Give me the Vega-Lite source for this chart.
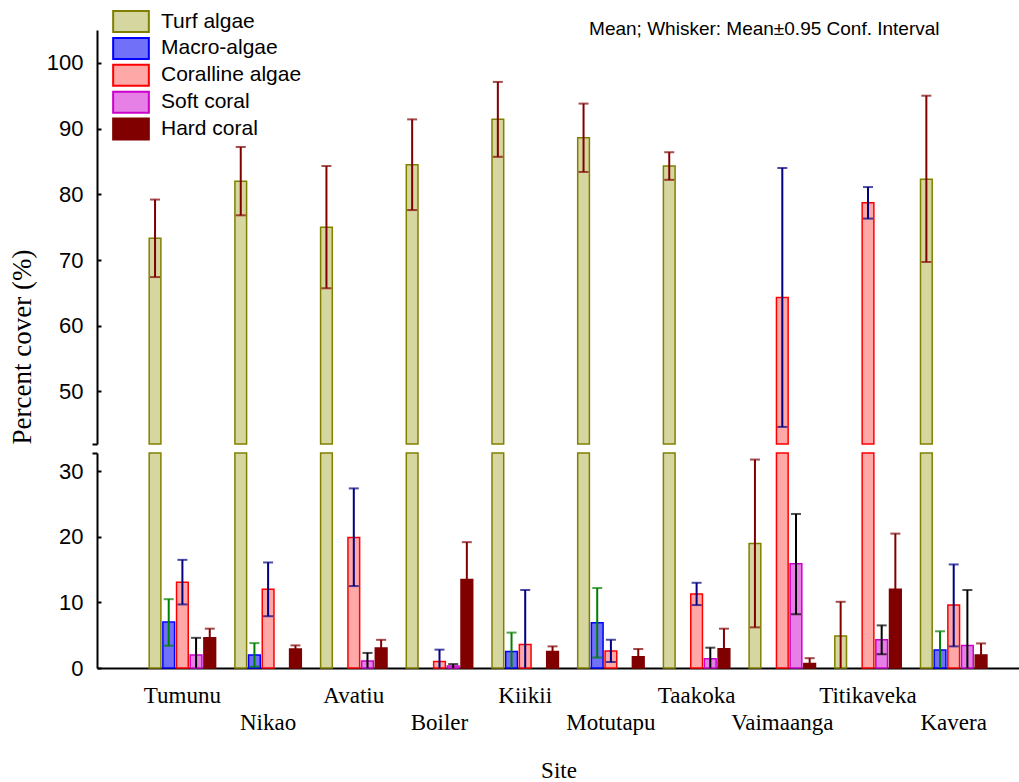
{
  "$schema": "https://vega.github.io/schema/vega-lite/v6.json",
  "background": "white",
  "padding": {"left": 8, "top": 10, "right": 0, "bottom": 0},
  "spacing": 7,
  "datasets": {
    "d": [
      {"site": "Tumunu", "cat": "Turf algae", "mean": 73.3, "lo": 67.4, "hi": 79.2},
      {"site": "Tumunu", "cat": "Macro-algae", "mean": 7.0, "lo": 3.4, "hi": 10.5},
      {"site": "Tumunu", "cat": "Coralline algae", "mean": 13.1, "lo": 9.7, "hi": 16.5},
      {"site": "Tumunu", "cat": "Soft coral", "mean": 2.0, "lo": -0.6, "hi": 4.6},
      {"site": "Tumunu", "cat": "Hard coral", "mean": 4.6, "lo": 3.2, "hi": 6.0},
      {"site": "Nikao", "cat": "Turf algae", "mean": 82.0, "lo": 76.8, "hi": 87.2},
      {"site": "Nikao", "cat": "Macro-algae", "mean": 2.0, "lo": 0.2, "hi": 3.8},
      {"site": "Nikao", "cat": "Coralline algae", "mean": 12.0, "lo": 7.9, "hi": 16.1},
      {"site": "Nikao", "cat": "Hard coral", "mean": 2.9, "lo": 2.35, "hi": 3.45},
      {"site": "Avatiu", "cat": "Turf algae", "mean": 75.0, "lo": 65.7, "hi": 84.3},
      {"site": "Avatiu", "cat": "Coralline algae", "mean": 19.9, "lo": 12.5, "hi": 27.4},
      {"site": "Avatiu", "cat": "Soft coral", "mean": 1.07, "lo": -0.2, "hi": 2.3},
      {"site": "Avatiu", "cat": "Hard coral", "mean": 3.05, "lo": 1.8, "hi": 4.3},
      {"site": "Boiler", "cat": "Turf algae", "mean": 84.5, "lo": 77.6, "hi": 91.4},
      {"site": "Boiler", "cat": "Coralline algae", "mean": 1.0, "lo": -0.8, "hi": 2.8},
      {"site": "Boiler", "cat": "Soft coral", "mean": 0.3, "lo": 0.0, "hi": 0.6},
      {"site": "Boiler", "cat": "Hard coral", "mean": 13.5, "lo": 7.8, "hi": 19.2},
      {"site": "Kiikii", "cat": "Turf algae", "mean": 91.4, "lo": 85.7, "hi": 97.1},
      {"site": "Kiikii", "cat": "Macro-algae", "mean": 2.5, "lo": -0.4, "hi": 5.4},
      {"site": "Kiikii", "cat": "Coralline algae", "mean": 3.6, "lo": -4.7, "hi": 11.9},
      {"site": "Kiikii", "cat": "Hard coral", "mean": 2.5, "lo": 1.7, "hi": 3.3},
      {"site": "Motutapu", "cat": "Turf algae", "mean": 88.6, "lo": 83.4, "hi": 93.8},
      {"site": "Motutapu", "cat": "Macro-algae", "mean": 6.9, "lo": 1.6, "hi": 12.2},
      {"site": "Motutapu", "cat": "Coralline algae", "mean": 2.6, "lo": 0.9, "hi": 4.3},
      {"site": "Motutapu", "cat": "Hard coral", "mean": 1.7, "lo": 0.5, "hi": 2.9},
      {"site": "Taakoka", "cat": "Turf algae", "mean": 84.3, "lo": 82.2, "hi": 86.4},
      {"site": "Taakoka", "cat": "Coralline algae", "mean": 11.3, "lo": 9.6, "hi": 13.0},
      {"site": "Taakoka", "cat": "Soft coral", "mean": 1.4, "lo": -0.3, "hi": 3.1},
      {"site": "Taakoka", "cat": "Hard coral", "mean": 2.95, "lo": -0.1, "hi": 6.0},
      {"site": "Vaimaanga", "cat": "Turf algae", "mean": 19.0, "lo": 6.2, "hi": 31.8},
      {"site": "Vaimaanga", "cat": "Coralline algae", "mean": 64.3, "lo": 44.6, "hi": 84.0},
      {"site": "Vaimaanga", "cat": "Soft coral", "mean": 15.9, "lo": 8.2, "hi": 23.5},
      {"site": "Vaimaanga", "cat": "Hard coral", "mean": 0.7, "lo": -0.1, "hi": 1.5},
      {"site": "Titikaveka", "cat": "Turf algae", "mean": 4.9, "lo": -0.3, "hi": 10.1},
      {"site": "Titikaveka", "cat": "Coralline algae", "mean": 78.7, "lo": 76.3, "hi": 81.1},
      {"site": "Titikaveka", "cat": "Soft coral", "mean": 4.3, "lo": 2.1, "hi": 6.5},
      {"site": "Titikaveka", "cat": "Hard coral", "mean": 12.0, "lo": 3.5, "hi": 20.5},
      {"site": "Kavera", "cat": "Turf algae", "mean": 82.3, "lo": 69.7, "hi": 95.0},
      {"site": "Kavera", "cat": "Macro-algae", "mean": 2.75, "lo": -0.1, "hi": 5.6},
      {"site": "Kavera", "cat": "Coralline algae", "mean": 9.6, "lo": 3.3, "hi": 15.8},
      {"site": "Kavera", "cat": "Soft coral", "mean": 3.45, "lo": -5.0, "hi": 11.9},
      {"site": "Kavera", "cat": "Hard coral", "mean": 2.0, "lo": 0.25, "hi": 3.75}
    ],
    "note": [{"label": "Mean; Whisker: Mean±0.95 Conf. Interval"}]
  },
  "config": {
    "view": {"stroke": null},
    "axis": {"domainColor": "black", "domainWidth": 2, "tickColor": "black", "tickWidth": 2, "labelColor": "black", "grid": false, "titleColor": "black"},
    "legend": {"padding": 0}
  },
  "resolve": {"scale": {"fill": "shared", "stroke": "shared", "color": "shared"}},
  "vconcat": [
    {
      "width": 923,
      "height": 414,
      "layer": [
        {
          "data": {"name": "d"},
          "transform": [{"filter": "datum.mean > 42"}],
          "mark": {"type": "bar", "strokeWidth": 1.5},
          "encoding": {
            "x": {"field": "site", "type": "nominal", "scale": {"domain": ["Tumunu", "Nikao", "Avatiu", "Boiler", "Kiikii", "Motutapu", "Taakoka", "Vaimaanga", "Titikaveka", "Kavera"], "paddingInner": 0.225, "paddingOuter": 0.4975, "align": 0.612}, "axis": null},
            "xOffset": {"field": "cat", "type": "nominal", "scale": {"domain": ["Turf algae", "Macro-algae", "Coralline algae", "Soft coral", "Hard coral"], "paddingInner": 0.144, "paddingOuter": 0}},
            "y": {"field": "mean", "type": "quantitative", "scale": {"domain": [42, 105], "nice": false, "zero": false}, "axis": {"values": [42, 50, 60, 70, 80, 90, 100], "labelExpr": "datum.value < 45 ? '' : datum.label", "tickSize": {"condition": {"test": "datum.value < 45", "value": 5}, "value": -4}, "labelPadding": 18, "labelFont": "Liberation Sans", "labelFontSize": 22, "title": "Percent cover (%)", "titleFont": "Liberation Serif", "titleFontSize": 27, "titleFontWeight": "normal", "titleAnchor": "start", "titlePadding": 10}},
            "y2": {"datum": 42},
            "fill": {"field": "cat", "type": "nominal", "scale": {"domain": ["Turf algae", "Macro-algae", "Coralline algae", "Soft coral", "Hard coral"], "range": ["#d6d6a0", "#7070f8", "#ffa8a8", "#e680e6", "#800000"]}, "legend": {"title": null, "orient": "none", "legendX": 22.5, "legendY": -20, "symbolType": "M-1.7,-1H1.7V1H-1.7Z", "symbolSize": 441, "symbolStrokeWidth": 2, "labelFont": "Liberation Sans", "labelFontSize": 21, "labelColor": "black", "labelOffset": 18.5, "rowPadding": -2.1}},
            "stroke": {"field": "cat", "type": "nominal", "scale": {"domain": ["Turf algae", "Macro-algae", "Coralline algae", "Soft coral", "Hard coral"], "range": ["#808000", "#0000ff", "#ff0000", "#cc00cc", "#800000"]}, "legend": {"title": null, "orient": "none", "legendX": 22.5, "legendY": -20, "symbolType": "M-1.7,-1H1.7V1H-1.7Z", "symbolSize": 441, "symbolStrokeWidth": 2, "labelFont": "Liberation Sans", "labelFontSize": 21, "labelColor": "black", "labelOffset": 18.5, "rowPadding": -2.1}}
          }
        },
        {
          "data": {"name": "d"},
          "transform": [{"filter": "datum.mean > 42"}],
          "mark": {"type": "rule", "strokeWidth": 2},
          "encoding": {
            "x": {"field": "site", "type": "nominal"},
            "xOffset": {"field": "cat", "type": "nominal"},
            "y": {"field": "lo", "type": "quantitative"},
            "y2": {"field": "hi"},
            "color": {"field": "cat", "type": "nominal", "scale": {"domain": ["Turf algae", "Macro-algae", "Coralline algae", "Soft coral", "Hard coral"], "range": ["#800000", "#008000", "#000080", "#000000", "#800000"]}, "legend": null}
          }
        },
        {
          "data": {"name": "d"},
          "transform": [{"filter": "datum.mean > 42"}],
          "mark": {"type": "tick", "orient": "horizontal", "size": 10, "thickness": 2},
          "encoding": {
            "x": {"field": "site", "type": "nominal"},
            "xOffset": {"field": "cat", "type": "nominal"},
            "y": {"field": "hi", "type": "quantitative"},
            "color": {"field": "cat", "type": "nominal", "legend": null}
          }
        },
        {
          "data": {"name": "d"},
          "transform": [{"filter": "datum.mean > 42"}],
          "mark": {"type": "tick", "orient": "horizontal", "size": 10, "thickness": 2},
          "encoding": {
            "x": {"field": "site", "type": "nominal"},
            "xOffset": {"field": "cat", "type": "nominal"},
            "y": {"field": "lo", "type": "quantitative"},
            "color": {"field": "cat", "type": "nominal", "legend": null}
          }
        },
        {
          "data": {"name": "note"},
          "mark": {"type": "text", "font": "Liberation Sans", "fontSize": 19, "baseline": "middle", "align": "center", "dx": -18, "color": "black"},
          "encoding": {
            "x": {"datum": "Vaimaanga"},
            "y": {"datum": 105.2},
            "text": {"field": "label"}
          }
        }
      ]
    },
    {
      "width": 923,
      "height": 215,
      "layer": [
        {
          "data": {"name": "d"},
          "mark": {"type": "bar", "strokeWidth": 1.5},
          "encoding": {
            "x": {"field": "site", "type": "nominal", "scale": {"domain": ["Tumunu", "Nikao", "Avatiu", "Boiler", "Kiikii", "Motutapu", "Taakoka", "Vaimaanga", "Titikaveka", "Kavera"], "paddingInner": 0.225, "paddingOuter": 0.4975, "align": 0.612}, "axis": {"title": "Site", "labelFont": "Liberation Serif", "labelFontSize": 23, "labelAngle": 0, "labelPadding": 20, "labelLineHeight": 27, "labelExpr": "indexof(['Nikao','Boiler','Motutapu','Vaimaanga','Kavera'], datum.value) >= 0 ? ['', datum.label] : datum.label", "tickSize": -4, "titleFont": "Liberation Serif", "titleFontSize": 23, "titleFontWeight": "normal", "titlePadding": 25}},
            "xOffset": {"field": "cat", "type": "nominal", "scale": {"domain": ["Turf algae", "Macro-algae", "Coralline algae", "Soft coral", "Hard coral"], "paddingInner": 0.144, "paddingOuter": 0}},
            "y": {"field": "mean", "type": "quantitative", "scale": {"domain": [0, 32.8], "nice": false, "clamp": true}, "axis": {"values": [0, 10, 20, 30, 32.8], "labelExpr": "datum.value > 31 ? '' : datum.label", "tickSize": {"condition": {"test": "datum.value > 31", "value": 5}, "value": -4}, "labelPadding": 18, "labelFont": "Liberation Sans", "labelFontSize": 22, "title": null}},
            "fill": {"field": "cat", "type": "nominal", "legend": {"title": null, "orient": "none", "legendX": 22.5, "legendY": -20, "symbolType": "M-1.7,-1H1.7V1H-1.7Z", "symbolSize": 441, "symbolStrokeWidth": 2, "labelFont": "Liberation Sans", "labelFontSize": 21, "labelColor": "black", "labelOffset": 18.5, "rowPadding": -2.1}},
            "stroke": {"field": "cat", "type": "nominal", "legend": {"title": null, "orient": "none", "legendX": 22.5, "legendY": -20, "symbolType": "M-1.7,-1H1.7V1H-1.7Z", "symbolSize": 441, "symbolStrokeWidth": 2, "labelFont": "Liberation Sans", "labelFontSize": 21, "labelColor": "black", "labelOffset": 18.5, "rowPadding": -2.1}}
          }
        },
        {
          "data": {"name": "d"},
          "transform": [{"filter": "datum.mean <= 42"}],
          "mark": {"type": "rule", "strokeWidth": 2},
          "encoding": {
            "x": {"field": "site", "type": "nominal"},
            "xOffset": {"field": "cat", "type": "nominal"},
            "y": {"field": "lo", "type": "quantitative"},
            "y2": {"field": "hi"},
            "color": {"field": "cat", "type": "nominal", "legend": null}
          }
        },
        {
          "data": {"name": "d"},
          "transform": [{"filter": "datum.mean <= 42"}],
          "mark": {"type": "tick", "orient": "horizontal", "size": 10, "thickness": 2},
          "encoding": {
            "x": {"field": "site", "type": "nominal"},
            "xOffset": {"field": "cat", "type": "nominal"},
            "y": {"field": "hi", "type": "quantitative"},
            "color": {"field": "cat", "type": "nominal", "legend": null}
          }
        },
        {
          "data": {"name": "d"},
          "transform": [{"filter": "datum.mean <= 42 && datum.lo > 0.05"}],
          "mark": {"type": "tick", "orient": "horizontal", "size": 10, "thickness": 2},
          "encoding": {
            "x": {"field": "site", "type": "nominal"},
            "xOffset": {"field": "cat", "type": "nominal"},
            "y": {"field": "lo", "type": "quantitative"},
            "color": {"field": "cat", "type": "nominal", "legend": null}
          }
        }
      ]
    }
  ]
}
